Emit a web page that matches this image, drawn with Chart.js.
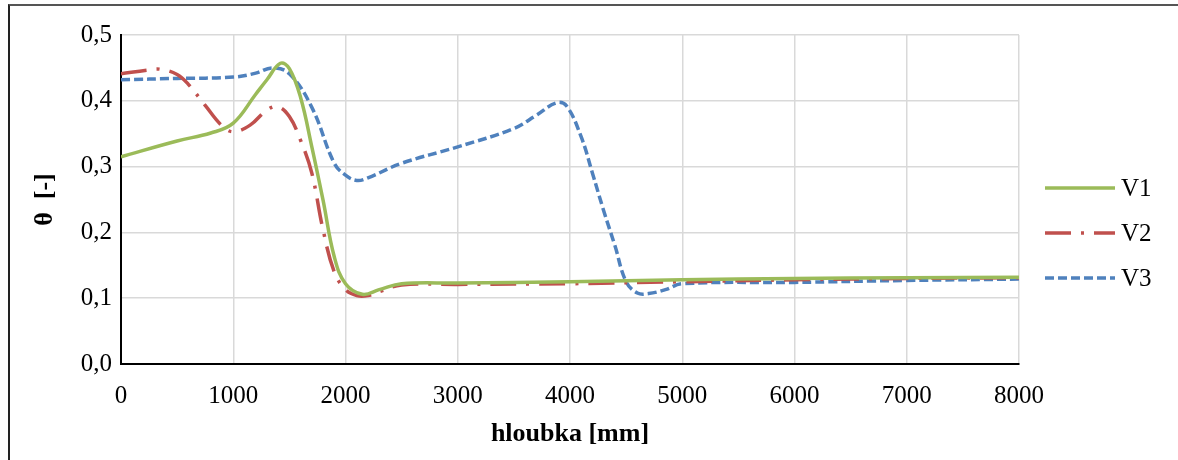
<!DOCTYPE html>
<html>
<head>
<meta charset="utf-8">
<script src="https://cdn.jsdelivr.net/npm/chart.js@4/dist/chart.umd.min.js"></script>
<style>
  html, body { margin: 0; padding: 0; background: #fff; }
  #wrap { position: relative; width: 1178px; height: 460px; overflow: hidden; }
  #frame { position: absolute; left: 8px; top: 4px; right: 0; bottom: -4px;
           border-top: 2px solid #555; border-left: 2px solid #222; }
  #chart { position: absolute; left: 0; top: 0; }
</style>
</head>
<body>
<div id="wrap">
  <div id="frame"></div>
  <canvas id="chart" width="1178" height="460"></canvas>
</div>
<script>
// hloubka [mm] / theta [-]
const v1Depth = [0, 500, 800, 1000, 1200, 1300, 1420, 1500, 1600, 1700, 1800, 1900, 2000, 2150, 2300, 2500, 3000, 4000, 5000, 6000, 7000, 8000];
const v1Theta = [0.315, 0.339, 0.351, 0.366, 0.41, 0.432, 0.457, 0.449, 0.405, 0.33, 0.249, 0.163, 0.122, 0.106, 0.113, 0.122, 0.123, 0.125, 0.128, 0.130, 0.131, 0.132];

const v2Depth = [0, 250, 350, 500, 600, 750, 900, 1000, 1150, 1300, 1400, 1500, 1600, 1700, 1800, 1900, 2000, 2100, 2200, 2300, 2500, 3000, 4000, 5000, 6000, 7000, 8000];
const v2Theta = [0.441, 0.447, 0.448, 0.440, 0.425, 0.393, 0.362, 0.353, 0.363, 0.386, 0.391, 0.376, 0.34, 0.29, 0.204, 0.14, 0.113, 0.104, 0.104, 0.110, 0.120, 0.121, 0.122, 0.125, 0.128, 0.130, 0.131];

const v3Depth = [0, 500, 1000, 1200, 1350, 1500, 1700, 1900, 2000, 2100, 2200, 2500, 3000, 3500, 3700, 3880, 3970, 4100, 4200, 4300, 4400, 4500, 4600, 4700, 4850, 5000, 6000, 7000, 8000];
const v3Theta = [0.432, 0.434, 0.436, 0.442, 0.450, 0.441, 0.39, 0.305, 0.287, 0.279, 0.283, 0.305, 0.330, 0.358, 0.378, 0.397, 0.392, 0.345, 0.29, 0.233, 0.18, 0.125, 0.108, 0.107, 0.113, 0.122, 0.124, 0.127, 0.129];

const seriesNames = ['V1', 'V2', 'V3'];
const xTicks = [0, 1000, 2000, 3000, 4000, 5000, 6000, 7000, 8000];
const yTicks = [0, 0.1, 0.2, 0.3, 0.4, 0.5];

const pts = (xs, ys) => xs.map((x, i) => ({ x: x, y: ys[i] }));

// legend drawn at the right like in the original (line sample + name)
const sideLegend = {
    id: 'sideLegend',
    afterDraw: (chart) => {
        const ctx = chart.ctx;
        const rows = [188, 233, 278];
        chart.data.datasets.forEach((ds, i) => {
            ctx.save();
            ctx.strokeStyle = ds.borderColor;
            ctx.lineWidth = ds.borderWidth;
            ctx.setLineDash(ds.borderDash || []);
            ctx.beginPath();
            ctx.moveTo(1045, rows[i]);
            ctx.lineTo(1115, rows[i]);
            ctx.stroke();
            ctx.setLineDash([]);
            ctx.fillStyle = '#000';
            ctx.font = '25px "Liberation Serif", serif';
            ctx.textBaseline = 'middle';
            ctx.fillText(ds.label, 1121, rows[i] + 1);
            ctx.restore();
        });
    }
};

const ctx = document.getElementById('chart');

new Chart(ctx, {
    type: 'scatter',
    data: {
        datasets: [{
            label: seriesNames[0],
            data: pts(v1Depth, v1Theta),
            borderColor: '#9bbb59',
            borderWidth: 3.5
        }, {
            label: seriesNames[1],
            data: pts(v2Depth, v2Theta),
            borderColor: '#c0504d',
            borderWidth: 3.5,
            borderDash: [26, 10, 3, 10]
        }, {
            label: seriesNames[2],
            data: pts(v3Depth, v3Theta),
            borderColor: '#4f81bd',
            borderWidth: 3.5,
            borderDash: [9, 4]
        }]
    },
    options: {
        responsive: false,
        animation: false,
        showLine: true,
        layout: {
            padding: { top: 35, right: 159, bottom: 0, left: 0 }
        },
        elements: {
            point: { radius: 0 },
            line: { tension: 0.4, borderCapStyle: 'butt' }
        },
        scales: {
            x: {
                type: 'linear',
                min: 0,
                max: 8000,
                afterFit: (scale) => { scale.height = 96; },
                afterBuildTicks: (scale) => { scale.ticks = xTicks.map(v => ({ value: v })); },
                ticks: {
                    color: '#000',
                    padding: 17,
                    maxRotation: 0,
                    font: { family: '"Liberation Serif", serif', size: 25 },
                    callback: (value) => String(value)
                },
                grid: { color: '#d9d9d9', lineWidth: 1.5, drawTicks: false },
                border: { color: '#000', width: 2 },
                title: {
                    display: true,
                    text: 'hloubka [mm]',
                    color: '#000',
                    padding: { top: 0, bottom: 10 },
                    font: { family: '"Liberation Serif", serif', size: 26, weight: 'bold' }
                }
            },
            y: {
                min: 0,
                max: 0.5,
                afterFit: (scale) => { scale.width = 121; },
                afterBuildTicks: (scale) => { scale.ticks = yTicks.map(v => ({ value: v })); },
                ticks: {
                    color: '#000',
                    padding: 9,
                    font: { family: '"Liberation Serif", serif', size: 25 },
                    callback: (value) => value.toFixed(1).replace('.', ',')
                },
                grid: { color: '#d9d9d9', lineWidth: 1.5, drawTicks: false },
                border: { color: '#000', width: 2 },
                title: {
                    display: true,
                    text: 'θ  [-]',
                    color: '#000',
                    padding: { top: 30, bottom: 0 },
                    font: { family: '"Liberation Serif", serif', size: 26, weight: 'bold' }
                }
            }
        },
        plugins: {
            legend: { display: false },
            tooltip: { enabled: false }
        }
    },
    plugins: [sideLegend]
});
</script>
</body>
</html>
